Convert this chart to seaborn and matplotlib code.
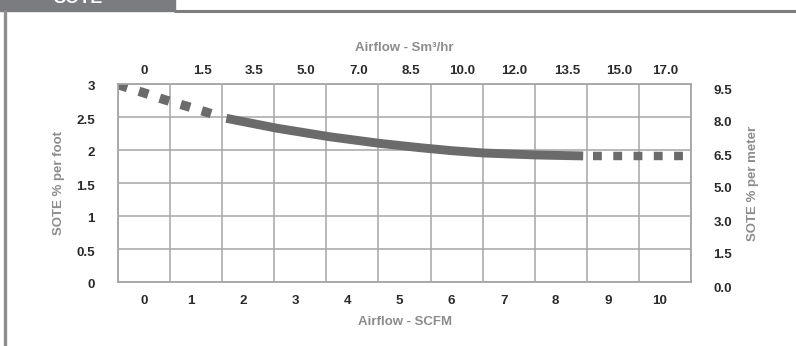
import matplotlib
matplotlib.use("Agg")
import matplotlib.pyplot as plt
from matplotlib.patches import Rectangle
from matplotlib.lines import Line2D
from matplotlib.transforms import ScaledTranslation
import numpy as np
import seaborn as sns

# Airflow axes
scfm_ticks = [0, 1, 2, 3, 4, 5, 6, 7, 8, 9, 10]
sm3hr_labels = ["0", "1.5", "3.5", "5.0", "7.0", "8.5", "10.0", "12.0", "13.5", "15.0", "17.0"]

# SOTE axes
foot_ticks = [0, 0.5, 1, 1.5, 2, 2.5, 3]
foot_labels = ["0", "0.5", "1", "1.5", "2", "2.5", "3"]
meter_labels = ["0.0", "1.5", "3.0", "5.0", "6.5", "8.0", "9.5"]

# SOTE curve: extrapolated low-flow part, measured range, extrapolated high-flow part
low_x = [-0.5, 0.02, 0.40, 0.79, 1.17, 1.45]
low_y = [2.99, 2.86, 2.76, 2.67, 2.58, 2.51]
mid_x = [1.58, 2.55, 3.57, 4.53, 5.30, 5.90, 6.51, 7.51, 8.43]
mid_y = [2.48, 2.33, 2.20, 2.10, 2.035, 1.99, 1.955, 1.925, 1.91]
high_x = [8.62, 10.5]
high_y = [1.91, 1.91]

sns.set_style("white")
plt.rcParams["font.family"] = ["Liberation Sans", "DejaVu Sans"]

W, H = 796, 346
fig = plt.figure(figsize=(W / 100, H / 100), dpi=100)
ax = fig.add_axes([118 / W, 1 - 282 / H, (691 - 118) / W, (282 - 84) / H])

line_color = "#6b6b6b"
grid_color = "#a6a6a6"
tick_color = "#2a2a2a"
label_color = "#8c8c8c"
lw = 6.4

sns.lineplot(x=low_x, y=low_y, ax=ax, sort=False, errorbar=None, color=line_color,
             lw=lw * 1.05, linestyle=(0, (1.05, 1.3)), dash_capstyle="butt")
sns.lineplot(x=mid_x, y=mid_y, ax=ax, sort=False, errorbar=None, color=line_color,
             lw=lw, solid_capstyle="butt", solid_joinstyle="round")
sns.lineplot(x=high_x, y=high_y, ax=ax, sort=False, errorbar=None, color=line_color,
             lw=lw * 0.95, linestyle=(0, (1.05, 1.35)), dash_capstyle="butt")

ax.set_xlim(-0.5, 10.5)
ax.set_ylim(0, 3)
ax.set_xticks(scfm_ticks)
ax.set_xticks(np.arange(-0.5, 11, 1.0), minor=True)
ax.set_yticks(foot_ticks)
ax.set_yticklabels(foot_labels)
ax.grid(False)
ax.grid(True, which="minor", axis="x", color=grid_color, lw=1.1)
ax.grid(True, which="major", axis="y", color=grid_color, lw=1.1)
ax.set_axisbelow(True)
for s in ax.spines.values():
    s.set_color(grid_color)
    s.set_linewidth(1.3)

tick_font = dict(fontsize=9.6, fontweight="bold", color=tick_color)
ax.tick_params(which="both", length=0)
ax.tick_params(axis="x", pad=9)
ax.tick_params(axis="y", pad=16.5)
for lab in ax.get_xticklabels() + ax.get_yticklabels():
    lab.set(**tick_font)
for i, lab in enumerate(ax.get_xticklabels()):
    if i > 0:
        lab.set_transform(lab.get_transform() + ScaledTranslation(-0.05, 0, fig.dpi_scale_trans))
for lab in ax.get_yticklabels():
    lab.set_transform(lab.get_transform() + ScaledTranslation(0, -0.02, fig.dpi_scale_trans))

ax.set_xlabel("Airflow - SCFM", fontsize=9.5, fontweight="bold", color=label_color, labelpad=7)
ax.set_ylabel("SOTE % per foot", fontsize=9.5, fontweight="bold", color=label_color, labelpad=8)

# Metric scales on the top and right edges
ax_t = ax.twiny()
ax_t.set_xlim(ax.get_xlim())
ax_t.set_xticks(scfm_ticks)
ax_t.set_xticklabels(sm3hr_labels)
ax_t.tick_params(length=0, pad=5)
for i, lab in enumerate(ax_t.get_xticklabels()):
    lab.set(**tick_font)
    if 0 < i < 10:
        lab.set_transform(lab.get_transform() + ScaledTranslation(0.06, 0, fig.dpi_scale_trans))
ax_t.set_xlabel("Airflow - Sm³/hr", fontsize=9.5, fontweight="bold", color=label_color, labelpad=10)

ax_r = ax.twinx()
ax_r.set_ylim(ax.get_ylim())
ax_r.set_yticks(foot_ticks)
ax_r.set_yticklabels(meter_labels)
ax_r.tick_params(length=0, pad=16)
for lab in ax_r.get_yticklabels():
    lab.set(**tick_font)
    lab.set_transform(lab.get_transform() + ScaledTranslation(0, -0.05, fig.dpi_scale_trans))
ax_r.set_ylabel("SOTE % per meter", fontsize=9.5, fontweight="bold", color=label_color, labelpad=11)
for a in (ax_t, ax_r):
    for s in a.spines.values():
        s.set_visible(False)
    a.grid(False)

# Panel frame with title tab
tab_color = "#7b7c80"
fig.patches.append(Rectangle((0, 1 - 11 / H), 175 / W, 11 / H, transform=fig.transFigure,
                             color=tab_color, zorder=0))
fig.lines.append(Line2D([175 / W, 1], [1 - 10.5 / H, 1 - 10.5 / H], transform=fig.transFigure,
                        color="#7d7d7d", lw=2.2))
fig.lines.append(Line2D([5 / W, 5 / W], [0, 1 - 11 / H], transform=fig.transFigure,
                        color="#8e8e8e", lw=2.4))
fig.text(78 / W, 1 - 3 / H, "SOTE", ha="center", va="baseline", color="white",
         fontsize=13, fontweight="bold")

fig.savefig("out.png", dpi=100)
